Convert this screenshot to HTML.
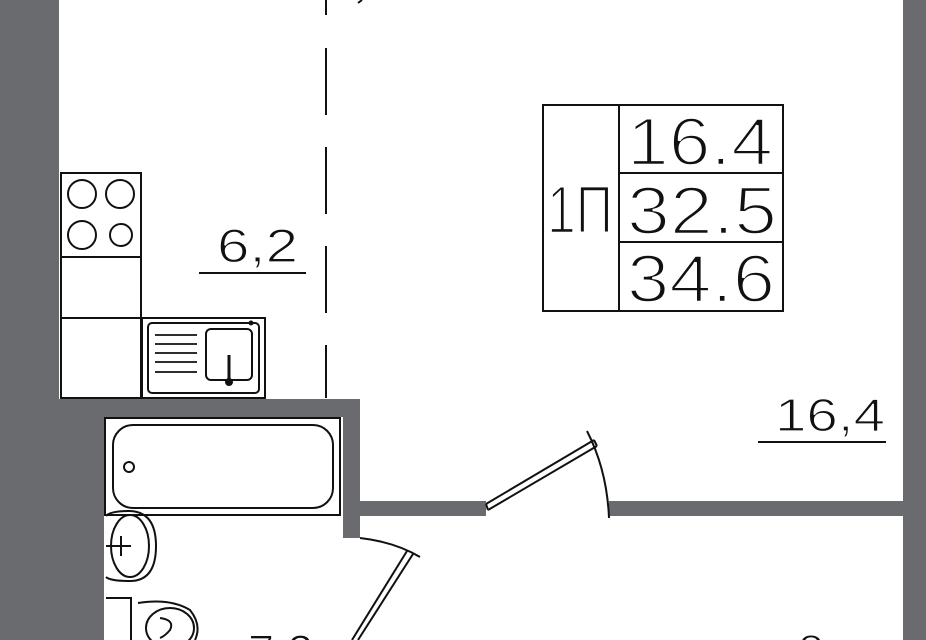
<!DOCTYPE html>
<html><head><meta charset="utf-8"><style>html,body{margin:0;padding:0;background:#fff;width:926px;height:640px;overflow:hidden}svg{display:block}</style></head>
<body>
<svg width="926" height="640" viewBox="0 0 926 640" xmlns="http://www.w3.org/2000/svg" font-family="'Liberation Sans', 'DejaVu Sans', sans-serif" overflow="hidden">
<g fill="#6a6b6e">
<rect x="0" y="0" width="59" height="640"/>
<rect x="0" y="400" width="104" height="240"/>
<rect x="59" y="399" width="301" height="18"/>
<rect x="343" y="399" width="17" height="139"/>
<rect x="360" y="501" width="126" height="15"/>
<rect x="609" y="501" width="294" height="15"/>
<rect x="903" y="0" width="23" height="640"/>
</g>
<g fill="none" stroke="#111" stroke-width="2">
<line x1="326" y1="0" x2="326" y2="398" stroke-dasharray="15,33,67,32,67,32,67,32,67,32,67,32"/>
<path d="M358 3 L362 0" />
<rect x="61" y="173" width="80" height="84"/>
<circle cx="82" cy="194" r="14"/><circle cx="120" cy="194" r="14"/>
<circle cx="82" cy="235" r="14"/><circle cx="121" cy="235" r="11"/>
<rect x="61" y="257" width="80" height="61"/>
<rect x="61" y="318" width="80" height="80"/>
<rect x="142" y="318" width="123" height="80"/>
<rect x="148" y="323" width="111" height="70" rx="4"/>
<rect x="206" y="329" width="46" height="51" rx="5"/>
<g stroke-width="1.8"><line x1="155" y1="335" x2="197" y2="335"/><line x1="155" y1="344" x2="197" y2="344"/><line x1="155" y1="353" x2="197" y2="353"/><line x1="155" y1="362" x2="197" y2="362"/><line x1="155" y1="372" x2="197" y2="372"/></g>
<line x1="229" y1="355" x2="229" y2="383" stroke-width="3"/>
<rect x="105" y="418" width="235" height="97"/>
<rect x="113" y="425" width="220" height="83" rx="20"/>
<circle cx="129" cy="467" r="5"/>
<path d="M106 516 Q110 511 130 511 Q156 512 156 546 Q156 581 130 581 Q110 581 106 577"/>
<ellipse cx="130" cy="546" rx="19" ry="31"/>
<line x1="106" y1="546" x2="131" y2="546"/><line x1="121" y1="536" x2="121" y2="556"/>
<path d="M106 598 L131 598 L131 640"/>
<path d="M138 603 Q170 598 190 610 Q202 625 195 640"/>
<ellipse cx="170" cy="628" rx="24" ry="20"/>
<path d="M160 618 Q175 620 170 630 Q165 636 160 638"/>
<path d="M360 538 Q395 542 420 557"/>
<line x1="407" y1="551" x2="352" y2="640"/><line x1="413" y1="554" x2="358" y2="640"/>
<path d="M587 431 Q607 470 609 518"/>
<path d="M486 504 L594 440 M488 510 L597 446 M594 440 L597 446 M486 504 L488 510"/>
<rect x="543" y="105" width="240" height="206"/>
<line x1="619" y1="105" x2="619" y2="311"/>
<line x1="619" y1="173" x2="783" y2="173"/>
<line x1="619" y1="242" x2="783" y2="242"/>
<line x1="199" y1="273" x2="306" y2="273"/>
<line x1="758" y1="442" x2="886" y2="442"/>
</g>
<circle cx="251" cy="323" r="2.5" fill="#111"/><circle cx="229" cy="382" r="4" fill="#111"/>
<g fill="#111" stroke="#fff" stroke-width="2.4">
<text x="627" y="165" font-size="68" textLength="146" lengthAdjust="spacingAndGlyphs">16.4</text>
<text x="627" y="234" font-size="68" textLength="150" lengthAdjust="spacingAndGlyphs">32.5</text>
<text x="627" y="302" font-size="68" textLength="148" lengthAdjust="spacingAndGlyphs">34.6</text>
<text x="547" y="233" font-size="68" textLength="66" lengthAdjust="spacingAndGlyphs">1П</text>
</g>
<g fill="#111" stroke="#fff" stroke-width="1.2">
<text x="217" y="262" font-size="47" textLength="81" lengthAdjust="spacingAndGlyphs">6,2</text>
<text x="775" y="431" font-size="46" textLength="110" lengthAdjust="spacingAndGlyphs">16,4</text>
<text x="248" y="668" font-size="47">7,2</text>
<text x="798" y="668" font-size="47">8</text>
</g>
</svg>
</body></html>
